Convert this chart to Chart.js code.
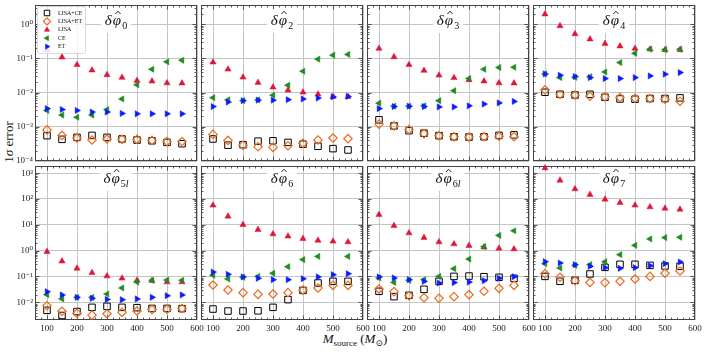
<!DOCTYPE html>
<html>
<head>
<meta charset="utf-8">
<script src="https://cdn.jsdelivr.net/npm/chart.js@4.4.1/dist/chart.umd.min.js"></script>
<style>
  html, body { margin: 0; padding: 0; background: #fff; overflow: hidden; }
  #wrap { position: relative; width: 704px; height: 352px; font-family: 'Liberation Serif', 'DejaVu Serif', serif; color: #111; }
  #wrap canvas { position: absolute; }
  .ytitle { position: absolute; left: 9px; top: 142px; transform: translate(-50%, -50%) rotate(-90deg); font-size: 13px; white-space: nowrap; }
  .xtitle { position: absolute; left: 355px; top: 339px; transform: translate(-50%, -50%); font-size: 13px; white-space: nowrap; }
  .xtitle sub { font-size: 9px; vertical-align: -3px; }
</style>
</head>
<body>
<div id="wrap">
  <div class="ytitle">1<i>σ</i> error</div>
  <div class="xtitle"><i>M</i><sub>source</sub> (<i>M</i><sub>⊙</sub>)</div>
</div>
<script>
// ----- DATA -----
const masses = [100, 150, 200, 250, 300, 350, 400, 450, 500, 550];
const panelSubs = ['0', '2', '3', '4', '5l', '6', '6l', '7'];
const seriesNames = ['LISA+CE', 'LISA+ET', 'LISA', 'CE', 'ET'];
const xTickValues = [100, 200, 300, 400, 500, 600];
const yTicksTop = [1e-4, 1e-3, 1e-2, 1e-1, 1];
const yTicksBottom = [1e-2, 1e-1, 1, 10, 100, 1000];

// one row per panel (phi0, phi2, phi3, phi4, phi5l, phi6, phi6l, phi7)
const lisaCE = [
  [0.00055, 0.00043, 0.00049, 0.00056, 0.00049, 0.00044, 0.00041, 0.00039, 0.00035, 0.00032],
  [0.00044, 0.00029, 0.0003, 0.00038, 0.00039, 0.00035, 0.00031, 0.00027, 0.00023, 0.00021],
  [0.0016, 0.00106, 0.00077, 0.00065, 0.00055, 0.00051, 0.0005, 0.00051, 0.00056, 0.00058],
  [0.0102, 0.0089, 0.0085, 0.0089, 0.0073, 0.0065, 0.0064, 0.0067, 0.0067, 0.007],
  [0.0049, 0.0031, 0.0044, 0.0064, 0.007, 0.0064, 0.0062, 0.0058, 0.0058, 0.0057],
  [0.0055, 0.0046, 0.0046, 0.0047, 0.0064, 0.0127, 0.029, 0.056, 0.065, 0.065],
  [0.0267, 0.0166, 0.0187, 0.0319, 0.065, 0.101, 0.104, 0.098, 0.093, 0.085],
  [0.101, 0.065, 0.071, 0.125, 0.226, 0.296, 0.296, 0.27, 0.255, 0.248]
];
const lisaET = [
  [0.00081, 0.00056, 0.00047, 0.00041, 0.00044, 0.00043, 0.00043, 0.0004, 0.00037, 0.00037],
  [0.0006, 0.0004, 0.00029, 0.00026, 0.00025, 0.00028, 0.00033, 0.00041, 0.00047, 0.00045],
  [0.0012, 0.00106, 0.00083, 0.00063, 0.00055, 0.00051, 0.0005, 0.00051, 0.00053, 0.00051],
  [0.012, 0.0089, 0.0085, 0.0078, 0.0075, 0.0072, 0.0068, 0.0067, 0.0064, 0.0056],
  [0.0074, 0.0045, 0.0038, 0.0032, 0.0036, 0.0041, 0.0046, 0.0053, 0.0054, 0.0058],
  [0.047, 0.03, 0.0237, 0.0204, 0.021, 0.0237, 0.03, 0.036, 0.0455, 0.0455],
  [0.0328, 0.0259, 0.018, 0.0152, 0.0143, 0.0166, 0.0198, 0.0267, 0.0348, 0.0455],
  [0.129, 0.093, 0.069, 0.059, 0.058, 0.065, 0.08, 0.101, 0.133, 0.163]
];
const lisaOnly = [
  [0.18, 0.108, 0.065, 0.045, 0.033, 0.0275, 0.0224, 0.0215, 0.019, 0.0188],
  [0.077, 0.048, 0.028, 0.0196, 0.0143, 0.0117, 0.0102, 0.0089, 0.0076, 0.0076],
  [0.194, 0.11, 0.065, 0.044, 0.032, 0.027, 0.0235, 0.0215, 0.019, 0.0188],
  [1.96, 0.89, 0.52, 0.364, 0.27, 0.227, 0.194, 0.185, 0.177, 0.177],
  [0.91, 0.39, 0.207, 0.14, 0.104, 0.085, 0.071, 0.069, 0.061, 0.061],
  [56.9, 21.3, 10.1, 6.5, 4.4, 3.6, 2.9, 2.5, 2.3, 2.16],
  [24.8, 9.3, 4.8, 3.2, 2.16, 1.81, 1.56, 1.35, 1.23, 1.16],
  [1585, 527, 244, 147, 97, 72, 57, 49, 43.5, 39.8]
];
const ceOnly = [
  [0.003, 0.0022, 0.0019, 0.0022, 0.0032, 0.0065, 0.0168, 0.048, 0.079, 0.088],
  [0.0071, 0.0061, 0.0058, 0.0061, 0.0084, 0.0164, 0.042, 0.095, 0.124, 0.13],
  [0.0049, 0.004, 0.004, 0.0041, 0.0058, 0.0114, 0.0257, 0.048, 0.054, 0.055],
  [0.035, 0.0275, 0.028, 0.029, 0.04, 0.0755, 0.141, 0.185, 0.18, 0.185],
  [0.0198, 0.0135, 0.0156, 0.0156, 0.021, 0.0359, 0.061, 0.071, 0.073, 0.071],
  [0.111, 0.08, 0.093, 0.101, 0.133, 0.24, 0.45, 0.6, null, 0.6],
  [0.0875, 0.059, 0.071, 0.075, 0.101, 0.2, 0.475, 1.43, 3.9, 5.9],
  [0.314, 0.213, 0.27, 0.287, 0.375, 0.7, 1.61, 2.83, 3.2, 3.3]
];
const etOnly = [
  [0.0034, 0.0032, 0.003, 0.0027, 0.0027, 0.00245, 0.0024, 0.0024, 0.0024, 0.0024],
  [0.0039, 0.0053, 0.0058, 0.006, 0.006, 0.0062, 0.0065, 0.0069, 0.0075, 0.0077],
  [0.0034, 0.0039, 0.004, 0.0039, 0.0038, 0.0038, 0.0041, 0.0046, 0.005, 0.0055],
  [0.035, 0.032, 0.0295, 0.0275, 0.0257, 0.0257, 0.0275, 0.0307, 0.0344, 0.0385],
  [0.0259, 0.0193, 0.0156, 0.0143, 0.013, 0.0127, 0.0135, 0.0156, 0.018, 0.0193],
  [0.149, 0.121, 0.096, 0.085, 0.075, 0.075, 0.082, 0.096, 0.118, 0.128],
  [0.096, 0.0875, 0.075, 0.065, 0.056, 0.058, 0.061, 0.069, 0.085, 0.098],
  [0.375, 0.333, 0.287, 0.248, 0.22, 0.207, 0.22, 0.263, 0.314, 0.364]
];

// ----- LAYOUT -----
const FONT = "'Liberation Serif', 'DejaVu Serif', serif";
const colLeft = [35, 201, 367, 533];
const PW = 162;
const rowTop = [5, 166], rowBottom = [161, 320];
const rowRange = [[1e-4, 3.63], [0.00207, 1892]];
const M = { l: 34, t: 12, r: 16, b: 16 };

const styles = [
  { pointStyle: 'rect', radius: 4.6, rotation: 0, border: '#000000', fill: 'rgba(0,0,0,0)', bw: 1, order: 5 },
  { pointStyle: 'rectRot', radius: 4.2, rotation: 0, border: '#ec6a1c', fill: 'rgba(0,0,0,0)', bw: 1.2, order: 4 },
  { pointStyle: 'triangle', radius: 3.6, rotation: 0, border: '#e0143c', fill: '#e0143c', bw: 0.5, order: 3 },
  { pointStyle: 'triangle', radius: 3.6, rotation: -90, border: '#1f8a1f', fill: '#1f8a1f', bw: 0.5, order: 2 },
  { pointStyle: 'triangle', radius: 3.6, rotation: 90, border: '#0a1cff', fill: '#0a1cff', bw: 0.5, order: 1 }
];

const SUP = { '0': '⁰', '1': '¹', '2': '²', '3': '³', '4': '⁴', '5': '⁵', '6': '⁶', '7': '⁷', '8': '⁸', '9': '⁹', '-': '⁻' };
function powLabel(v) {
  const e = String(Math.round(Math.log10(v)));
  return '10' + e.split('').map(ch => SUP[ch]).join('');
}

// ----- DECORATION PLUGIN -----
const panelDeco = {
  id: 'panelDeco',
  beforeDatasetsDraw(chart) {
    const { ctx, chartArea: a, scales: { x, y } } = chart;
    ctx.save();
    ctx.strokeStyle = '#333';
    ctx.lineWidth = 0.8;
    ctx.beginPath();
    for (let v = 80; v < 600; v += 20) {
      const px = Math.round(x.getPixelForValue(v)) + 0.5;
      const len = v % 100 === 0 ? 4.5 : 2.5;
      ctx.moveTo(px, a.top); ctx.lineTo(px, a.top + len);
      ctx.moveTo(px, a.bottom); ctx.lineTo(px, a.bottom - len);
    }
    const lo = Math.floor(Math.log10(y.min)), hi = Math.ceil(Math.log10(y.max));
    for (let d = lo; d <= hi; d++) {
      for (let k = 1; k < 10; k++) {
        const v = k * Math.pow(10, d);
        if (v <= y.min || v >= y.max) continue;
        const py = Math.round(y.getPixelForValue(v)) + 0.5;
        const len = k === 1 ? 4.5 : 2.5;
        ctx.moveTo(a.left, py); ctx.lineTo(a.left + len, py);
        ctx.moveTo(a.right, py); ctx.lineTo(a.right - len, py);
      }
    }
    ctx.stroke();
    ctx.strokeStyle = '#444';
    ctx.lineWidth = 1;
    ctx.strokeRect(a.left + 0.5, a.top + 0.5, a.width - 1, a.height - 1);
    ctx.restore();
  },
  afterDatasetsDraw(chart, args, opts) {
    const { ctx, chartArea: a } = chart;
    ctx.save();
    // panel title
    const big = 'italic 15px ' + FONT;
    ctx.font = big;
    const wd = ctx.measureText('δ').width;
    const wp = ctx.measureText('φ').width;
    ctx.font = '10px ' + FONT;
    const ws = ctx.measureText(opts.sub).width;
    const total = wd + 1 + wp + ws + 1;
    const cx = (a.left + a.right) / 2;
    const base = a.top + opts.base;
    let x0 = cx - total / 2;
    ctx.fillStyle = 'rgba(255,255,255,0.92)';
    ctx.fillRect(x0 - 4, base - 16, total + 8, 24);
    ctx.fillStyle = '#111';
    ctx.textBaseline = 'alphabetic';
    ctx.font = big;
    ctx.fillText('δ', x0, base);
    ctx.fillText('φ', x0 + wd + 1, base);
    // hat accent over phi
    const hx = x0 + wd + 1 + wp / 2 + 1;
    ctx.strokeStyle = '#111';
    ctx.lineWidth = 0.9;
    ctx.beginPath();
    ctx.moveTo(hx - 2.6, base - 11);
    ctx.lineTo(hx, base - 13.8);
    ctx.lineTo(hx + 2.6, base - 11);
    ctx.stroke();
    let sx = x0 + wd + 1 + wp + 1;
    opts.sub.split('').forEach(ch => {
      ctx.font = (ch === 'l' ? 'italic ' : '') + '10px ' + FONT;
      ctx.fillText(ch, sx, base + 4);
      sx += ctx.measureText(ch).width;
    });
    // legend
    if (opts.legend) {
      const lx = a.left + 2, ly = a.top + 1, lw = 48, lh = 47;
      ctx.fillStyle = 'rgba(255,255,255,0.82)';
      ctx.strokeStyle = '#d0d0d0';
      ctx.lineWidth = 0.8;
      ctx.beginPath();
      ctx.roundRect(lx + 0.5, ly + 0.5, lw, lh, 2);
      ctx.fill();
      ctx.stroke();
      chart.data.datasets.forEach((ds, i) => {
        const yy = ly + 7 + i * 8.4;
        ctx.fillStyle = ds.backgroundColor;
        ctx.strokeStyle = ds.borderColor;
        ctx.lineWidth = ds.borderWidth;
        Chart.helpers.drawPoint(ctx, { pointStyle: ds.pointStyle, radius: ds.pointRadius * 0.85, rotation: ds.rotation, borderWidth: ds.borderWidth }, lx + 10, yy);
        ctx.fillStyle = '#111';
        ctx.font = '6px ' + FONT;
        ctx.textBaseline = 'middle';
        ctx.fillText(ds.label, lx + 21, yy);
      });
    }
    ctx.restore();
  }
};

// ----- BUILD PANELS -----
const wrap = document.getElementById('wrap');
const seriesData = [lisaCE, lisaET, lisaOnly, ceOnly, etOnly];

panelSubs.forEach((sub, i) => {
  const r = i < 4 ? 0 : 1, c = i % 4;
  const canvas = document.createElement('canvas');
  const w = PW + M.l + M.r;
  const h = rowBottom[r] - rowTop[r] + M.t + M.b;
  canvas.width = w; canvas.height = h;
  canvas.style.left = (colLeft[c] - M.l) + 'px';
  canvas.style.top = (rowTop[r] - M.t) + 'px';
  canvas.style.width = w + 'px'; canvas.style.height = h + 'px';
  wrap.appendChild(canvas);

  const datasets = seriesNames.map((name, s) => {
    const st = styles[s];
    return {
      label: name,
      data: masses.map((m, k) => ({ x: m, y: seriesData[s][i][k] })).filter(p => p.y != null),
      pointStyle: st.pointStyle,
      pointRadius: st.radius,
      pointHoverRadius: st.radius,
      rotation: st.rotation,
      borderColor: st.border,
      backgroundColor: st.fill,
      borderWidth: st.bw,
      order: st.order,
      showLine: false,
      clip: false
    };
  });

  const yTicks = r === 0 ? yTicksTop : yTicksBottom;
  new Chart(canvas.getContext('2d'), {
    type: 'scatter',
    data: { datasets },
    plugins: [panelDeco],
    options: {
      responsive: false,
      animation: false,
      devicePixelRatio: 1,
      layout: { padding: { left: 0, top: M.t, right: M.r, bottom: 0 } },
      plugins: {
        legend: { display: false },
        tooltip: { enabled: false },
        panelDeco: { sub, legend: i === 0, base: r === 0 ? 20 : 17 }
      },
      scales: {
        x: {
          type: 'linear', min: 60, max: 600, position: 'bottom',
          border: { display: false },
          grid: { color: '#c4c4c4', lineWidth: 1, drawTicks: false },
          ticks: { display: r === 1, autoSkip: false, maxRotation: 0, padding: 3, color: '#222', font: { family: FONT, size: 9 } },
          afterBuildTicks: s => { s.ticks = xTickValues.map(v => ({ value: v })); },
          afterFit: s => { s.height = M.b; }
        },
        y: {
          type: 'logarithmic', min: rowRange[r][0], max: rowRange[r][1], position: 'left',
          border: { display: false },
          grid: { color: '#c4c4c4', lineWidth: 1, drawTicks: false },
          ticks: { display: c === 0, autoSkip: false, padding: 2, color: '#222', font: { family: FONT, size: 9 }, callback: v => powLabel(v) },
          afterBuildTicks: s => { s.ticks = yTicks.map(v => ({ value: v })); },
          afterFit: s => { s.width = M.l; }
        }
      }
    }
  });
});
</script>
</body>
</html>
